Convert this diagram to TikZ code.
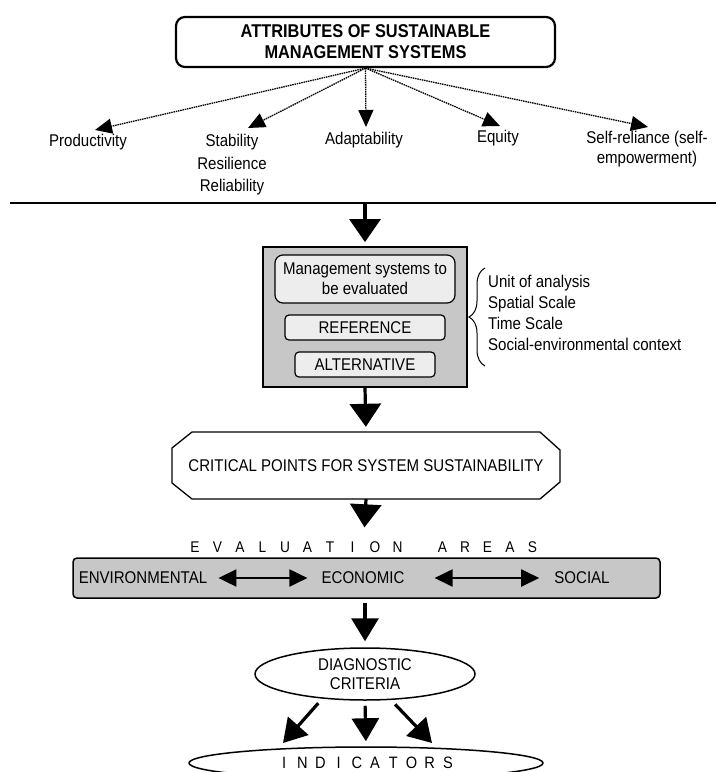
\documentclass[tikz,border=0pt]{standalone}
\usepackage{fontspec}
\setmainfont{Liberation Sans}[FakeStretch=0.885]
\usetikzlibrary{arrows.meta,shapes.geometric,decorations.pathreplacing}
\newcommand{\ltr}[1]{\makebox[22.5pt]{#1}}
\newcommand{\ltrb}[1]{\makebox[18.2pt]{#1}}
\tikzset{
  txt/.style={font=\fontsize{17}{21}\selectfont, inner sep=0pt, align=center},
  titlebox/.style={draw, line width=2.2pt, rounded corners=9pt, minimum width=379pt,
    minimum height=50pt, inner sep=0pt, align=center, font=\bfseries\fontsize{18.5}{21}\selectfont},
  dotarrow/.style={line width=1.3pt, dash pattern=on 1.5pt off 0.8pt,
    -{Triangle[length=17pt,width=15pt]}},
  bigarrow/.style={line width=3.2pt, -{Triangle[length=23pt,width=31pt]}},
  midarrow/.style={line width=3.2pt, -{Triangle[length=23pt,width=27pt]}},
  dblarrow/.style={line width=2pt, {Triangle[length=18pt,width=17pt]}-{Triangle[length=18pt,width=17pt]}},
  graybox/.style={draw, line width=1.8pt, fill=black!22, minimum width=204pt, minimum height=140pt},
  inbox/.style={txt, draw, line width=1.2pt, fill=black!7},
  bandbox/.style={draw, line width=1.5pt, fill=black!22, rounded corners=4pt,
    minimum width=587pt, minimum height=40pt},
  ellbox/.style={ellipse, draw, line width=1.5pt, inner sep=0pt},
}
\begin{document}
\begin{tikzpicture}[x=1pt,y=-1pt]
\useasboundingbox (0,0) rectangle (716,772);
% title
\node[titlebox] (title) at (365.5,42) {ATTRIBUTES OF SUSTAINABLE\\MANAGEMENT SYSTEMS};
% attributes
\node[txt] (prod) at (88,142) {Productivity};
\node[txt, font=\fontsize{17}{22.5}\selectfont] (stab) at (232,165) {Stability\\Resilience\\Reliability};
\node[txt] (adapt) at (364,140) {Adaptability};
\node[txt] (equity) at (498,138) {Equity};
\node[txt, font=\fontsize{17}{20}\selectfont] (self) at (647,149) {Self-reliance (self-\\empowerment)};
\coordinate (tp) at (95,130);
\coordinate (ts) at (248,128);
\coordinate (ta) at (366,127);
\coordinate (te) at (500,126);
\coordinate (tr) at (648,127);
\draw[dotarrow] (title.south) -- (tp);
\draw[dotarrow] (title.south) -- (ts);
\draw[dotarrow] (title.south) -- (ta);
\draw[dotarrow] (title.south) -- (te);
\draw[dotarrow] (title.south) -- (tr);
% separator
\coordinate (hl) at (10,203);
\coordinate (hr) at (716,203);
\coordinate (hc) at (365,203);
\draw[line width=1.6pt] (hl) -- (hr);
% management systems box
\node[graybox] (gbox) at (365,317) {};
\node[inbox, rounded corners=8pt, minimum width=180pt, minimum height=48pt, font=\fontsize{17}{20}\selectfont] (mse) at (365,279) {Management systems to\\be evaluated};
\node[inbox, rounded corners=4pt, minimum width=160pt, minimum height=25pt] (ref) at (365,327.5) {REFERENCE};
\node[inbox, rounded corners=4pt, minimum width=140pt, minimum height=25pt] (alt) at (365,364.5) {ALTERNATIVE};
\draw[bigarrow, shorten >=4pt] (hc) -- (gbox.north);
% brace and context
\coordinate (bb) at (485,366);
\coordinate (bt) at (485,268);
\draw[line width=1pt, decorate, decoration={brace, amplitude=16pt}] (bb) -- (bt);
\node[txt, align=left, anchor=west] (ctx) at (488,313) {Unit of analysis\\Spatial Scale\\Time Scale\\Social-environmental context};
% critical points
\node[txt, minimum width=388pt, minimum height=67pt] (crit) at (366,465.5) {CRITICAL POINTS FOR SYSTEM SUSTAINABILITY};
\draw[line width=1.3pt] (192,432) -- (540,432) -- (560,450) -- (560,482) -- (540,499)
  -- (192,499) -- (172,483) -- (172,448) -- cycle;
\draw[bigarrow, shorten >=5pt] (gbox.south) -- (crit.north);
% evaluation areas
\node[inner sep=0pt, font=\fontsize{15.5}{15.5}\selectfont] (ev) at (363.75,547)
  {\ltr{E}\ltr{V}\ltr{A}\ltr{L}\ltr{U}\ltr{A}\ltr{T}\ltr{I}\ltr{O}\ltr{N}\ltr{}\ltr{A}\ltr{R}\ltr{E}\ltr{A}\ltr{S}};
\draw[bigarrow, shorten >=14pt] (crit.south) -- (ev.north);
\node[bandbox] (band) at (366.5,578) {};
\node[txt] (env) at (143,578) {ENVIRONMENTAL};
\node[txt] (econ) at (363,578) {ECONOMIC};
\node[txt] (soc) at (582,578) {SOCIAL};
\draw[dblarrow, shorten <=11pt, shorten >=14pt] (env) -- (econ);
\draw[dblarrow, shorten <=30pt, shorten >=15pt] (econ) -- (soc);
% diagnostic criteria
\node[ellbox, txt, minimum width=220pt, minimum height=52pt, font=\fontsize{17}{19}\selectfont] (diag) at (365,674) {DIAGNOSTIC\\CRITERIA};
\draw[midarrow, shorten <=4pt, shorten >=6pt] (diag.north |- band.south) -- (diag.north);
% indicators
\node[ellbox, minimum width=354pt, minimum height=32pt, font=\fontsize{16.5}{16.5}\selectfont] (ind) at (366,763)
  {\ltrb{I}\ltrb{N}\ltrb{D}\ltrb{I}\ltrb{C}\ltrb{A}\ltrb{T}\ltrb{O}\ltrb{R}\ltrb{S}};
\coordinate (il) at (283,743);
\coordinate (ir) at (432,743);
\draw[midarrow, shorten <=6pt] (diag.210) -- (il);
\draw[midarrow, shorten <=5pt, shorten >=5pt] (diag.south) -- (ind.north);
\draw[midarrow, shorten <=6pt] (diag.315) -- (ir);
\end{tikzpicture}
\end{document}
